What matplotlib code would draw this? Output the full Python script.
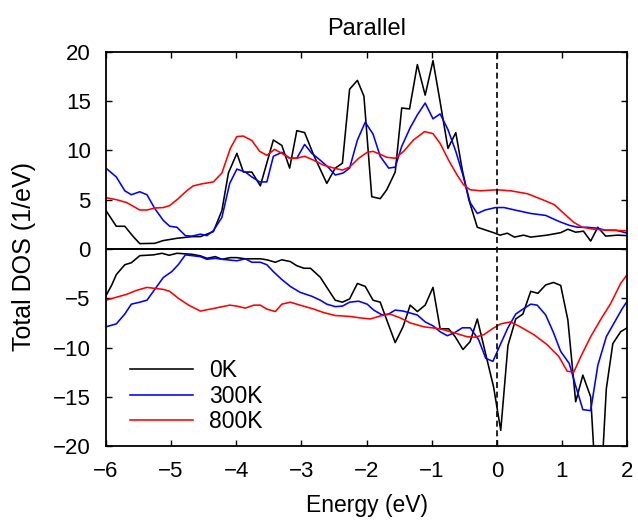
import matplotlib
matplotlib.use("Agg")
import matplotlib.pyplot as plt
import numpy as np

plt.rcParams['font.family'] = ['Liberation Sans', 'DejaVu Sans']

# spin-up DOS (positive side)
e_up_0k = [-6.0, -5.84, -5.71, -5.58, -5.48, -5.25, -5.12, -4.91, -4.68, -4.55, -4.35, -4.22,
           -4.12, -3.99, -3.89, -3.76, -3.63, -3.43, -3.30, -3.18, -3.07, -2.95, -2.81, -2.61,
           -2.48, -2.37, -2.26, -2.14, -2.04, -1.92, -1.79, -1.69, -1.56, -1.46, -1.34, -1.22,
           -1.10, -0.98, -0.87, -0.75, -0.63, -0.53, -0.43, -0.30, -0.05, 0.05, 0.16, 0.27,
           0.41, 0.52, 0.77, 0.98, 1.09, 1.21, 1.33, 1.44, 1.55, 1.67, 1.85, 2.0]
up_0k = [3.9, 2.3, 2.3, 1.25, 0.54, 0.57, 0.85, 1.08, 1.25, 1.25, 1.76, 3.9,
         7.7, 9.7, 7.8, 7.8, 6.4, 11.05, 10.5, 8.2, 12.0, 11.8, 9.5, 6.65,
         8.2, 8.7, 16.2, 17.1, 15.5, 5.3, 5.1, 6.0, 7.8, 14.3, 14.2, 18.7,
         15.6, 19.1, 14.9, 10.2, 11.8, 8.0, 5.0, 2.2, 1.65, 1.4, 1.6, 1.2,
         1.4, 1.2, 1.4, 1.65, 2.0, 1.7, 1.8, 0.8, 2.2, 1.3, 1.4, 1.35]

e_up_300k = [-6.0, -5.84, -5.71, -5.61, -5.48, -5.37, -5.25, -5.12, -5.02, -4.91, -4.78, -4.68,
             -4.55, -4.45, -4.35, -4.22, -4.10, -3.99, -3.86, -3.76, -3.64, -3.53, -3.43, -3.30,
             -3.18, -3.07, -2.95, -2.84, -2.71, -2.59, -2.48, -2.36, -2.26, -2.14, -2.02, -1.90,
             -1.79, -1.66, -1.56, -1.46, -1.33, -1.22, -1.10, -0.98, -0.87, -0.75, -0.63, -0.53,
             -0.41, -0.30, -0.18, -0.02, 0.11, 0.31, 0.52, 0.75, 0.95, 1.11, 1.24, 1.39,
             1.54, 1.67, 1.83, 2.0]
up_300k = [8.2, 7.3, 5.9, 5.5, 5.8, 5.5, 4.1, 2.9, 2.3, 2.2, 1.35, 1.3,
           1.5, 1.35, 1.86, 3.2, 6.65, 8.1, 7.8, 7.3, 6.8, 6.8, 9.4, 9.8,
           9.2, 9.2, 10.6, 9.7, 9.0, 8.3, 7.5, 7.7, 8.2, 11.05, 12.85, 11.65,
           9.4, 8.2, 8.3, 10.4, 12.3, 13.6, 14.8, 13.2, 13.7, 12.1, 9.9, 7.7,
           4.7, 3.6, 3.95, 4.2, 4.2, 3.9, 3.6, 3.4, 2.8, 2.4, 2.2, 2.2,
           2.1, 1.9, 1.9, 1.6]

e_up_800k = [-6.0, -5.84, -5.68, -5.48, -5.37, -5.25, -5.12, -5.02, -4.89, -4.76, -4.66, -4.53,
             -4.35, -4.22, -4.09, -3.99, -3.89, -3.76, -3.64, -3.53, -3.41, -3.30, -3.18, -3.07,
             -2.95, -2.81, -2.66, -2.50, -2.37, -2.26, -2.12, -1.99, -1.90, -1.79, -1.69, -1.56,
             -1.43, -1.28, -1.11, -0.98, -0.87, -0.74, -0.61, -0.51, -0.41, -0.25, 0.0, 0.21,
             0.47, 0.70, 0.88, 1.03, 1.18, 1.31, 1.49, 1.70, 2.0]
up_800k = [5.2, 5.0, 4.7, 3.95, 3.95, 4.15, 4.2, 4.4, 5.1, 5.9, 6.4, 6.6,
           6.8, 7.7, 10.2, 11.4, 11.45, 11.0, 9.9, 9.5, 10.1, 9.7, 9.2, 9.2,
           9.4, 9.0, 8.5, 8.2, 8.0, 8.3, 9.2, 9.8, 9.9, 9.6, 9.3, 9.2,
           9.9, 11.05, 11.9, 11.7, 10.7, 9.0, 7.5, 6.5, 6.0, 5.9, 6.0, 5.9,
           5.6, 5.0, 4.5, 3.6, 2.7, 2.2, 2.0, 1.9, 1.85]

# spin-down DOS (negative side)
e_dn_0k = [-6.0, -5.91, -5.84, -5.71, -5.61, -5.48, -5.27, -5.14, -5.03, -4.91, -4.68, -4.55,
           -4.45, -4.32, -4.22, -4.09, -3.99, -3.86, -3.63, -3.53, -3.40, -3.30, -3.17, -3.07,
           -2.96, -2.86, -2.71, -2.55, -2.48, -2.37, -2.26, -2.14, -2.02, -1.90, -1.79, -1.69,
           -1.56, -1.44, -1.33, -1.22, -1.10, -0.98, -0.87, -0.74, -0.64, -0.52, -0.41, -0.30,
           -0.17, -0.05, 0.06, 0.17, 0.29, 0.40, 0.52, 0.63, 0.75, 0.87, 0.98, 1.09,
           1.21, 1.32, 1.44, 1.52, 1.60, 1.68, 1.78, 1.90, 2.0]
dn_0k = [-4.76, -3.65, -2.6, -1.6, -1.4, -0.68, -0.6, -0.44, -0.64, -0.44, -0.54, -0.7,
         -0.95, -0.78, -1.05, -0.88, -0.88, -1.0, -1.0, -1.1, -1.35, -1.1, -1.28, -1.7,
         -1.96, -1.96, -2.87, -4.5, -5.2, -5.4, -5.07, -3.5, -3.8, -5.2, -5.4, -7.2,
         -9.5, -7.9, -5.7, -6.35, -5.7, -3.9, -8.1, -8.1, -8.9, -10.2, -9.4, -7.1,
         -10.7, -14.0, -18.4, -9.8, -7.1, -6.6, -4.3, -4.5, -3.65, -3.4, -3.7, -7.2,
         -15.5, -12.8, -15.0, -24.0, -24.0, -14.2, -9.6, -8.4, -8.0]

e_dn_300k = [-6.0, -5.84, -5.71, -5.61, -5.48, -5.37, -5.25, -5.12, -4.99, -4.89, -4.78, -4.68,
             -4.55, -4.45, -4.32, -4.22, -3.99, -3.86, -3.76, -3.63, -3.53, -3.43, -3.30, -3.17,
             -3.02, -2.84, -2.71, -2.61, -2.48, -2.37, -2.26, -2.12, -1.99, -1.89, -1.76, -1.66,
             -1.56, -1.44, -1.33, -1.22, -1.10, -0.98, -0.87, -0.76, -0.65, -0.53, -0.41, -0.28,
             -0.17, -0.06, 0.06, 0.17, 0.29, 0.40, 0.52, 0.62, 0.75, 0.87, 0.98, 1.11,
             1.21, 1.32, 1.44, 1.55, 1.68, 1.80, 1.92, 2.0]
dn_300k = [-7.9, -7.6, -6.6, -5.6, -5.4, -5.2, -4.1, -2.9, -2.3, -1.6, -0.6, -0.68,
           -0.78, -1.05, -0.95, -1.05, -1.2, -1.0, -1.35, -1.35, -1.6, -2.3, -3.1, -3.8,
           -4.4, -4.8, -5.2, -5.6, -5.85, -5.8, -5.4, -5.3, -5.6, -6.2, -6.7, -6.6,
           -6.2, -6.3, -6.5, -6.7, -7.4, -7.8, -8.4, -8.8, -8.5, -8.0, -8.0, -9.2,
           -11.1, -11.4, -9.6, -8.0, -6.6, -6.1, -5.6, -5.7, -6.7, -8.5, -10.4, -11.6,
           -13.9, -16.3, -16.4, -11.8, -8.9, -7.5, -6.1, -5.3]

e_dn_800k = [-6.0, -5.84, -5.68, -5.53, -5.37, -5.25, -5.12, -5.02, -4.89, -4.73, -4.55, -4.32,
             -4.10, -3.99, -3.86, -3.73, -3.63, -3.53, -3.40, -3.30, -3.17, -3.02, -2.81, -2.66,
             -2.48, -2.25, -2.09, -1.94, -1.79, -1.64, -1.48, -1.33, -1.12, -0.87, -0.66, -0.46,
             -0.33, -0.20, -0.07, 0.06, 0.21, 0.36, 0.57, 0.77, 0.95, 1.08, 1.18, 1.29,
             1.44, 1.59, 1.75, 1.90, 2.0]
dn_800k = [-5.2, -4.9, -4.6, -4.2, -3.9, -4.0, -4.1, -4.3, -5.0, -5.7, -6.3, -6.0,
           -5.7, -5.8, -6.0, -5.7, -5.7, -6.1, -6.35, -5.6, -5.4, -5.7, -6.1, -6.45,
           -6.75, -6.85, -7.0, -7.1, -6.8, -6.6, -7.0, -7.5, -7.9, -8.1, -8.5, -8.9,
           -8.95, -8.7, -8.1, -7.6, -7.4, -7.9, -8.7, -9.7, -10.9, -12.4, -12.5, -10.9,
           -8.9, -7.2, -5.5, -3.5, -2.6]

fig = plt.figure(figsize=(6.38, 5.23), dpi=100)
ax = fig.add_axes([0.166, 0.147, 0.817, 0.754])

lw = 1.15
ax.plot(e_up_0k, up_0k, color='black', lw=lw, label='0K')
ax.plot(e_up_300k, up_300k, color='blue', lw=lw, label='300K')
ax.plot(e_up_800k, up_800k, color='red', lw=lw, label='800K')
ax.plot(e_dn_0k, dn_0k, color='black', lw=lw)
ax.plot(e_dn_300k, dn_300k, color='blue', lw=lw)
ax.plot(e_dn_800k, dn_800k, color='red', lw=lw)

ax.axhline(0, color='black', lw=1.4)
ax.axvline(0, color='black', lw=1.2, ls=(0, (3.6, 2.2)))

ax.set_xlim(-6, 2)
ax.set_ylim(-20, 20)
ax.set_xticks(np.arange(-6, 3, 1))
ax.set_yticks(np.arange(-20, 21, 5))
ax.tick_params(direction='in', top=True, right=True, length=4, width=1, labelsize=16)
ax.tick_params(axis='x', pad=11)
ax.tick_params(axis='y', pad=11)
for s in ax.spines.values():
    s.set_linewidth(1.3)

ax.set_xlabel('Energy (eV)', fontsize=16.5, labelpad=8)
ax.set_ylabel('Total DOS (1/eV)', fontsize=18, labelpad=12)
ax.yaxis.label.set_y(0.482)
ax.set_title('Parallel', fontsize=17, pad=12)

ax.legend(loc='center left', bbox_to_anchor=(0.046, 0.127), frameon=False, fontsize=16.5,
          handlelength=2.75, handletextpad=0.7, labelspacing=0.11, borderpad=0,
          borderaxespad=0)

fig.savefig('out.png', dpi=100)
